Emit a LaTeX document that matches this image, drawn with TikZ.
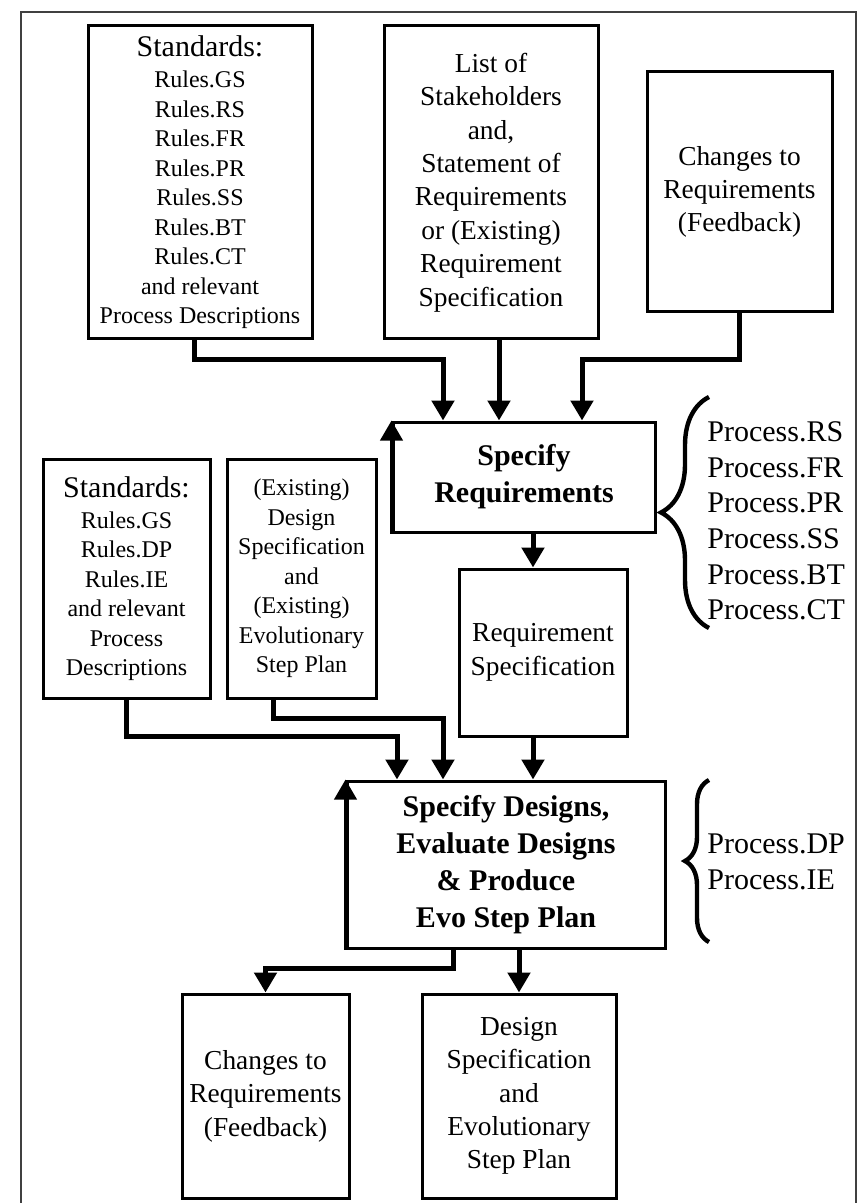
\documentclass[tikz,border=0pt]{standalone}
\usepackage{fontspec}
\setmainfont{Liberation Serif}
\usetikzlibrary{positioning,calc,arrows.meta,decorations.pathreplacing}

\tikzset{
  box/.style={draw, line width=1.5pt, align=center, inner sep=0pt},
  txtA/.style={font=\fontsize{12}{14.75}\selectfont},
  txtB/.style={font=\fontsize{13.7}{16.7}\selectfont},
  proc/.style={box, font=\fontsize{15}{18.4}\selectfont\bfseries},
  plist/.style={align=left, inner sep=0pt, font=\fontsize{15}{17.85}\selectfont},
  flow/.style={line width=2.5pt, -{Triangle[length=10pt,width=11pt]}},
  back/.style={line width=2pt, -{Triangle[length=10pt,width=11pt]}},
  brc/.style={decorate, decoration={brace, amplitude=#1}, line width=2.2pt},
}

\begin{document}
\begin{tikzpicture}[x=0.5pt,y=-0.5pt]
\useasboundingbox (0,0) rectangle (863,1203);
\draw[line width=1pt,black!75] (21,1203) |- (856,12) -- (856,1203);

% inputs of Specify Requirements
\node[box,txtA,minimum width=112pt,minimum height=156.5pt] (stdR) at (200,182.5)
  {{\fontsize{15}{16}\selectfont Standards:}\\[0.75pt] Rules.GS\\ Rules.RS\\ Rules.FR\\ Rules.PR\\ Rules.SS\\ Rules.BT\\ Rules.CT\\ and relevant\\ Process Descriptions};
\node[box,txtB,minimum width=107pt,minimum height=156.5pt] (stake) at (491,182.5)
  {List of\\ Stakeholders\\ and,\\ Statement of\\ Requirements\\ or (Existing)\\ Requirement\\ Specification};
\node[box,txtB,minimum width=92.5pt,minimum height=120pt] (chgR) at (739.5,192)
  {Changes to\\ Requirements\\ (Feedback)};

\node[proc,minimum width=131pt,minimum height=55pt] (specR) at (524,477) {Specify\\ Requirements};
\node[box,txtB,minimum width=84pt,minimum height=83.5pt] (reqS) at (543,652.5) {Requirement\\ Specification};

% inputs of Specify Designs
\node[box,txtA,minimum width=83.5pt,minimum height=119.5pt] (stdD) at (126.5,578.5)
  {{\fontsize{15}{16}\selectfont Standards:}\\[0.75pt] Rules.GS\\ Rules.DP\\ Rules.IE\\ and relevant\\ Process\\ Descriptions};
\node[box,txtA,minimum width=74.5pt,minimum height=119.5pt] (desOld) at (301.5,578.5)
  {(Existing)\\ Design\\ Specification\\ and\\ (Existing)\\ Evolutionary\\ Step Plan};

\node[proc,minimum width=159pt,minimum height=83.5pt] (specD) at (506,864.5)
  {Specify Designs,\\ Evaluate Designs\\ \& Produce\\ Evo Step Plan};

% outputs
\node[box,txtB,minimum width=83.5pt,minimum height=102pt] (chgD) at (265.5,1096)
  {Changes to\\ Requirements\\ (Feedback)};
\node[box,txtB,minimum width=97pt,minimum height=102pt] (desNew) at (519,1096)
  {Design\\ Specification\\ and\\ Evolutionary\\ Step Plan};

% process lists
\node[plist,anchor=west] (procR) at (707,521)
  {Process.RS\\ Process.FR\\ Process.PR\\ Process.SS\\ Process.BT\\ Process.CT};
\node[plist,anchor=west] (procD) at (707,862) {Process.DP\\ Process.IE};
\draw[brc=24pt] ($(procR.west)+(2,107)$) -- ($(procR.west)+(2,-124)$);
\draw[brc=12pt] ($(procD.west)+(2,80)$) -- ($(procD.west)+(2,-82)$);

% connectors
\draw[flow] ($(stdR.south)+(-6,0)$) -- ++(0,19) -| ($(specR.north)+(-81,0)$);
\coordinate (inB) at ($(specR.north)+(-25,0)$);
\draw[flow] (inB |- stake.south) -- (inB);
\draw[flow] (chgR.south) -- ++(0,46) -| ($(specR.north)+(58,0)$);
\coordinate (outR) at ($(reqS.north)+(-10,0)$);
\draw[flow] (outR |- specR.south) -- (outR);
\coordinate (inD) at ($(reqS.south)+(-10,0)$);
\draw[flow] (inD) -- (inD |- specD.north);
\draw[flow] (stdD.south) -- ++(0,37) -| ($(specD.north)+(-109,0)$);
\draw[flow] ($(desOld.south)+(-28.5,0)$) -- ++(0,19) -| ($(specD.north)+(-63,0)$);
\draw[flow] ($(specD.south)+(-53,0)$) -- ++(0,19) -| (chgD.north);
\draw[flow] (desNew.north |- specD.south) -- (desNew.north);
% feedback edges
\draw[back] (specR.south west) -- (specR.north west);
\draw[back] (specD.south west) -- (specD.north west);
\end{tikzpicture}
\end{document}
